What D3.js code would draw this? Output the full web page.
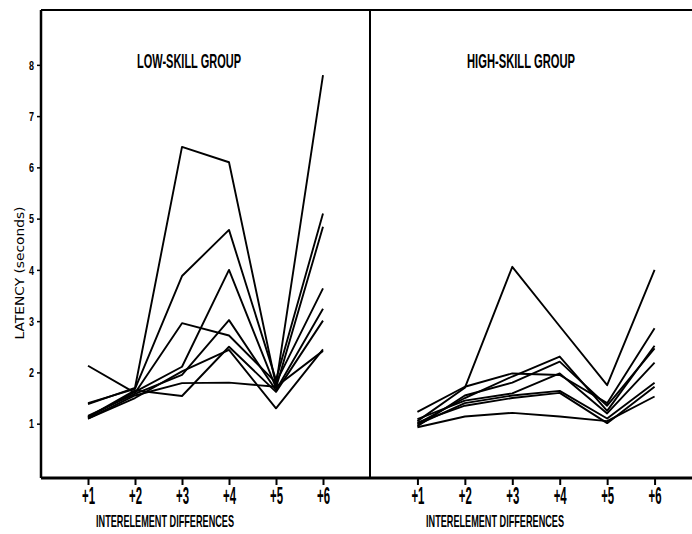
<!DOCTYPE html>
<html>
<head>
<meta charset="utf-8">
<script src="https://cdn.jsdelivr.net/npm/d3@7"></script>
<style>
  body { margin: 0; background: #fff; }
</style>
</head>
<body>
<main></main>
<script>
// interelement differences on the x axis
const steps = [1, 2, 3, 4, 5, 6];
const yTicks = [1, 2, 3, 4, 5, 6, 7, 8];

// one row per subject, latency (seconds) at +1..+6
const lowSkill = [
  [1.38, 1.70, 6.40, 6.10, 1.75, 7.80],
  [1.40, 1.68, 3.88, 4.78, 1.85, 5.10],
  [1.12, 1.62, 2.11, 4.00, 1.70, 4.84],
  [2.13, 1.60, 2.96, 2.72, 1.80, 3.64],
  [1.15, 1.58, 1.95, 3.02, 1.65, 3.24],
  [1.13, 1.65, 1.54, 2.50, 1.62, 3.01],
  [1.10, 1.55, 1.79, 1.80, 1.72, 2.42],
  [1.10, 1.50, 2.02, 2.44, 1.30, 2.45]
];

const highSkill = [
  [1.05, 1.70, 4.06, 2.90, 1.75, 4.00],
  [1.23, 1.72, 1.98, 1.95, 1.40, 2.86],
  [1.00, 1.50, 1.92, 2.31, 1.25, 2.52],
  [0.95, 1.55, 1.80, 2.21, 1.35, 2.47],
  [1.09, 1.45, 1.59, 1.98, 1.20, 2.19],
  [0.98, 1.40, 1.55, 1.64, 1.10, 1.80],
  [1.02, 1.35, 1.50, 1.60, 1.01, 1.72],
  [0.93, 1.14, 1.21, 1.14, 1.05, 1.53]
];

const titles = ["LOW-SKILL GROUP", "HIGH-SKILL GROUP"];
const xTitle = "INTERELEMENT DIFFERENCES";
const yTitle = "LATENCY (seconds)";

const w = 692;
const h = 534;
const plotTop = 10;
const plotBottom = 478;
const plotLeft = 41;
const mid = 370;

const svg = d3.select("main")
  .append("svg")
  .attr("width", w)
  .attr("height", h);

const y = d3.scaleLinear()
  .domain([-0.06, 9.07])
  .range([plotBottom, plotTop]);

const panels = [
  { data: lowSkill, x0: plotLeft, x1: mid, title: titles[0], titleX: 189, titleW: 104, labelX: 165 },
  { data: highSkill, x0: mid, x1: mid + 332, title: titles[1], titleX: 521, titleW: 108, labelX: 495 }
];

const line = x => d3.line()
  .x((d, i) => x(steps[i]))
  .y(d => y(d));

panels.forEach(p => {
  const x = d3.scaleLinear().domain([0, 7]).range([p.x0, p.x1]);

  svg.append("g")
    .selectAll("path")
    .data(p.data)
    .enter()
    .append("path")
    .attr("d", line(x))
    .attr("fill", "none")
    .attr("stroke", "#000")
    .attr("stroke-width", 1.9)
    .attr("stroke-linejoin", "round");

  const xAxis = svg.append("g")
    .attr("transform", `translate(0,${plotBottom})`)
    .call(d3.axisBottom(x).tickValues(steps).tickSize(7).tickPadding(3).tickFormat(d => "+" + d));
  xAxis.select(".domain").remove();
  xAxis.selectAll(".tick line").attr("stroke-width", 2);
  xAxis.selectAll(".tick text")
    .attr("fill", "#000")
    .attr("font-family", "'Liberation Sans', Arial, sans-serif")
    .attr("font-weight", "bold")
    .attr("font-size", 23)
    .attr("textLength", 13)
    .attr("lengthAdjust", "spacingAndGlyphs");

  svg.append("text")
    .attr("x", p.titleX)
    .attr("y", 68)
    .attr("fill", "#000")
    .attr("text-anchor", "middle")
    .attr("font-family", "'Liberation Sans', Arial, sans-serif")
    .attr("font-weight", "bold")
    .attr("font-size", 21)
    .attr("textLength", p.titleW)
    .attr("lengthAdjust", "spacingAndGlyphs")
    .text(p.title);

  svg.append("text")
    .attr("x", p.labelX)
    .attr("y", 527)
    .attr("fill", "#000")
    .attr("text-anchor", "middle")
    .attr("font-family", "'Liberation Sans', Arial, sans-serif")
    .attr("font-weight", "bold")
    .attr("font-size", 17)
    .attr("textLength", 138)
    .attr("lengthAdjust", "spacingAndGlyphs")
    .text(xTitle);
});

// y axis
const yAxis = svg.append("g")
  .attr("transform", `translate(${plotLeft},0)`)
  .call(d3.axisLeft(y).tickValues(yTicks).tickSize(4).tickPadding(3).tickFormat(d3.format("d")));
yAxis.select(".domain").remove();
yAxis.selectAll(".tick line").attr("stroke-width", 1.5);
yAxis.selectAll(".tick text")
  .attr("fill", "#000")
  .attr("font-family", "'Liberation Sans', Arial, sans-serif")
  .attr("font-weight", "bold")
  .attr("font-size", 13)
  .attr("textLength", 5)
  .attr("lengthAdjust", "spacingAndGlyphs");

svg.append("text")
  .attr("transform", `translate(24,273)rotate(-90)`)
  .attr("fill", "#000")
  .attr("text-anchor", "middle")
  .attr("font-family", "'DejaVu Sans', sans-serif")
  .attr("font-size", 12)
  .attr("textLength", 133)
  .attr("lengthAdjust", "spacingAndGlyphs")
  .text(yTitle);

// frame
const frame = svg.append("g").attr("stroke", "#000").attr("fill", "none");
frame.append("line").attr("x1", plotLeft).attr("x2", w).attr("y1", plotTop).attr("y2", plotTop).attr("stroke-width", 2);
frame.append("line").attr("x1", plotLeft).attr("x2", w).attr("y1", plotBottom).attr("y2", plotBottom).attr("stroke-width", 3);
frame.append("line").attr("x1", plotLeft).attr("x2", plotLeft).attr("y1", plotTop).attr("y2", plotBottom).attr("stroke-width", 2.5);
frame.append("line").attr("x1", mid).attr("x2", mid).attr("y1", plotTop).attr("y2", plotBottom).attr("stroke-width", 2);
</script>
</body>
</html>
